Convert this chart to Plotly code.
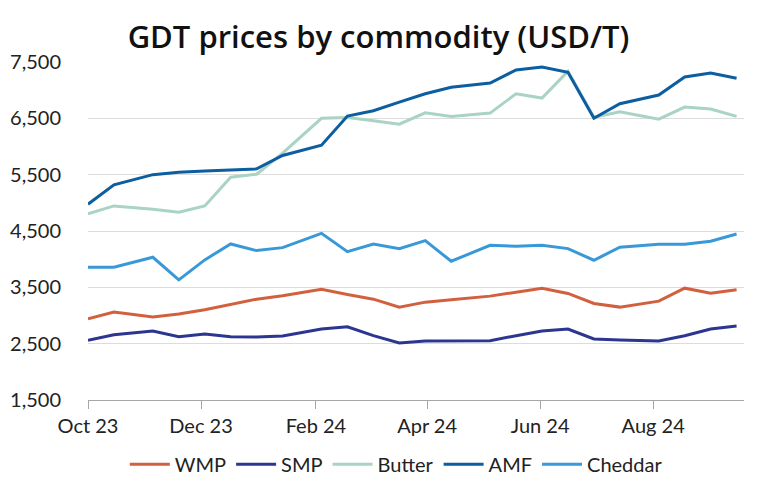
import plotly.graph_objects as go

dates = ["2023-10-03", "2023-10-17", "2023-11-07", "2023-11-21", "2023-12-05", "2023-12-19",
         "2024-01-02", "2024-01-16", "2024-02-06", "2024-02-20", "2024-03-05", "2024-03-19",
         "2024-04-02", "2024-04-16", "2024-05-07", "2024-05-21", "2024-06-04", "2024-06-18",
         "2024-07-02", "2024-07-16", "2024-08-06", "2024-08-20", "2024-09-03", "2024-09-17"]

wmp = [2942, 3060, 2972, 3025, 3102, 3202, 3290, 3349, 3467, 3373, 3290, 3149,
       3237, 3279, 3344, 3414, 3485, 3391, 3214, 3149, 3255, 3485, 3397, 3456]
smp = [2559, 2659, 2724, 2624, 2671, 2624, 2618, 2636, 2760, 2801, 2642, 2512,
       2547, 2553, 2553, 2642, 2724, 2760, 2583, 2565, 2547, 2642, 2760, 2813]
butter = [4803, 4945, 4886, 4832, 4945, 5455, 5508, 5882, 6500, 6516, 6457, 6397,
          6599, 6534, 6593, 6937, 6860, 7334, 6520, 6617, 6486, 6700, 6664, 6534]
amf = [4975, 5319, 5500, 5544, 5567, 5585, 5603, 5840, 6024, 6540, 6634, 6789,
       6937, 7050, 7127, 7358, 7411, 7316, 6500, 6759, 6913, 7233, 7304, 7210]
cheddar = [3857, 3857, 4034, 3633, 3987, 4270, 4152, 4205, 4459, 4134, 4270, 4187,
           4329, 3963, 4246, 4229, 4246, 4187, 3981, 4211, 4264, 4264, 4317, 4447]

series = [("WMP", wmp, "#D2603E"), ("SMP", smp, "#2C3590"), ("Butter", butter, "#A9D3C3"),
          ("AMF", amf, "#0C5EA0"), ("Cheddar", cheddar, "#3999D8")]

tick_vals = ["2023-10-03", "2023-12-03", "2024-02-03", "2024-04-03", "2024-06-03", "2024-08-03"]
tick_text = ["Oct 23", "Dec 23", "Feb 24", "Apr 24", "Jun 24", "Aug 24"]
y_ticks = [1500, 2500, 3500, 4500, 5500, 6500, 7500]

fig = go.Figure()
for name, vals, col in series:
    fig.add_trace(go.Scatter(x=dates, y=vals, name=name, mode="lines",
                             line=dict(color=col, width=3)))

font = "Lato, 'Open Sans', sans-serif"
fig.update_layout(
    width=757, height=491,
    margin=dict(l=88, r=13, t=62, b=91, autoexpand=False),
    paper_bgcolor="white", plot_bgcolor="white",
    font=dict(family=font, size=20, color="#222222"),
    title=dict(text="GDT prices by commodity (USD/T)", x=0.5, xanchor="center",
               y=0.924, yanchor="middle",
               font=dict(family="'Open Sans', sans-serif", size=31, weight=600, color="#111111")),
    showlegend=True,
    legend=dict(orientation="h", x=0.47, xanchor="center", y=-0.19, yanchor="middle",
                font=dict(family=font, size=20, color="#222222"), itemwidth=40,
                traceorder="normal"),
    xaxis=dict(type="date", range=["2023-10-03", "2024-09-21"], tickvals=tick_vals,
               ticktext=tick_text, showgrid=False, showline=True, linecolor="#A6A6A6",
               linewidth=1, ticks="outside", ticklen=8, tickcolor="#A6A6A6",
               ticklabelstandoff=0, tickfont=dict(size=20), zeroline=False),
    yaxis=dict(range=[1500, 7500], tickvals=y_ticks, tickformat=",", showgrid=True,
               gridcolor="#DCDCDC", gridwidth=1, zeroline=False, showline=False,
               ticks="", ticklabelstandoff=26, tickfont=dict(size=20)),
)

fig.write_html("out.html")
